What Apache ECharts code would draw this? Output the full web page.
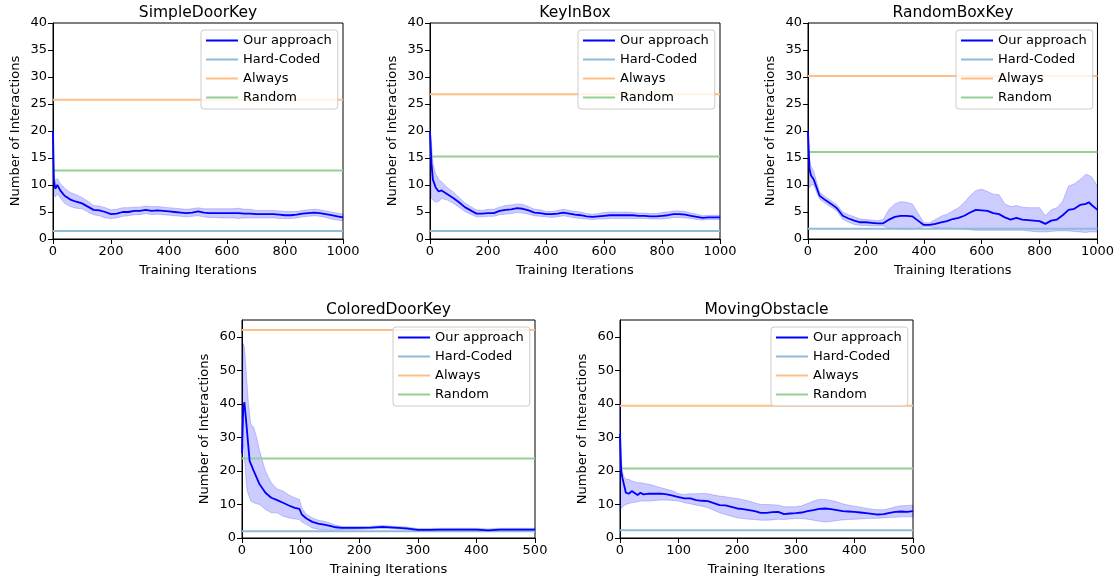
<!DOCTYPE html>
<html>
<head>
<meta charset="utf-8">
<script src="https://cdn.jsdelivr.net/npm/echarts@6/dist/echarts.min.js"></script>
<style>
	html,body{margin:0;padding:0;background:#fff}
	#chart{width:1117px;height:584px}
</style>
</head>
<body>
<div id="chart"></div>
<script>
// panel titles and baselines (Hard-Coded, Always, Random), one entry per panel
var titles = ['SimpleDoorKey', 'KeyInBox', 'RandomBoxKey', 'ColoredDoorKey', 'MovingObstacle'];
var hardCoded = [1.5, 1.5, 1.9, 2.0, 2.3];
var always = [25.8, 26.8, 30.2, 62.0, 39.4];
var randomBase = [12.7, 15.3, 16.1, 23.7, 20.7];

// SimpleDoorKey
var sdkX = [0, 3, 8, 15, 25, 40, 60, 80, 100, 120, 140, 160, 180, 200, 220, 240, 260, 280, 300, 320, 340, 360, 380, 400, 420, 440, 460, 480, 500, 520, 540, 560, 580, 600, 620, 640, 660, 680, 700, 720, 740, 760, 780, 800, 820, 840, 860, 880, 900, 920, 940, 960, 980, 1000];
var sdkMean = [20, 11, 9.3, 10, 9, 8, 7.3, 6.9, 6.6, 6, 5.4, 5.3, 5, 4.6, 4.7, 5, 5, 5.2, 5.2, 5.4, 5.2, 5.3, 5.2, 5.1, 5, 4.9, 4.8, 4.9, 5.1, 4.9, 4.8, 4.8, 4.8, 4.8, 4.8, 4.8, 4.7, 4.7, 4.6, 4.6, 4.6, 4.6, 4.5, 4.4, 4.4, 4.5, 4.7, 4.8, 4.9, 4.8, 4.6, 4.4, 4.2, 4.0];
var sdkLow = [20, 8.5, 7.8, 8.4, 7.6, 6.6, 6.0, 5.7, 5.6, 5.0, 4.5, 4.3, 3.9, 3.8, 3.9, 4.2, 4.3, 4.5, 4.5, 4.7, 4.5, 4.6, 4.5, 4.4, 4.3, 4.2, 4.1, 4.2, 4.3, 4.1, 4.0, 4.0, 3.9, 3.9, 3.9, 3.8, 3.9, 3.9, 3.9, 3.9, 3.9, 3.9, 3.8, 3.8, 3.8, 3.9, 4.1, 4.2, 4.3, 4.2, 4.0, 3.7, 3.5, 3.4];
var sdkHigh = [20, 12, 10.8, 11.2, 10.3, 9.4, 8.6, 8.2, 7.7, 7.0, 6.2, 6.1, 5.8, 5.4, 5.5, 5.8, 5.8, 5.9, 5.9, 6.1, 6.0, 6.0, 5.9, 5.8, 5.7, 5.6, 5.5, 5.6, 5.8, 5.6, 5.6, 5.6, 5.6, 5.6, 5.6, 5.7, 5.5, 5.5, 5.3, 5.3, 5.3, 5.3, 5.2, 5.1, 5.1, 5.1, 5.3, 5.4, 5.5, 5.4, 5.2, 5.0, 4.8, 4.6];

// KeyInBox
var kibX = [0, 5, 10, 20, 30, 40, 60, 80, 100, 120, 140, 160, 180, 200, 220, 240, 260, 280, 300, 320, 340, 360, 380, 400, 420, 440, 460, 480, 500, 520, 540, 560, 580, 600, 620, 640, 660, 680, 700, 720, 740, 760, 780, 800, 820, 840, 860, 880, 900, 920, 940, 960, 980, 1000];
var kibMean = [20, 14, 11, 9.5, 8.8, 9, 8.3, 7.6, 6.8, 5.9, 5.3, 4.7, 4.7, 4.8, 4.8, 5.2, 5.4, 5.5, 5.7, 5.6, 5.3, 4.9, 4.8, 4.6, 4.6, 4.7, 4.9, 4.7, 4.5, 4.4, 4.2, 4.1, 4.2, 4.3, 4.4, 4.4, 4.4, 4.4, 4.4, 4.3, 4.3, 4.2, 4.2, 4.3, 4.4, 4.6, 4.6, 4.5, 4.3, 4.1, 3.9, 4.0, 4.0, 4.0];
var kibLow = [20, 7.5, 7.2, 6.8, 7.0, 7.5, 7.2, 6.6, 5.9, 5.1, 4.6, 4.1, 4.1, 4.2, 4.2, 4.5, 4.6, 4.7, 4.9, 4.8, 4.6, 4.3, 4.2, 4.1, 4.0, 4.1, 4.3, 4.1, 3.9, 3.8, 3.7, 3.6, 3.7, 3.7, 3.8, 3.8, 3.8, 3.8, 3.8, 3.8, 3.8, 3.7, 3.7, 3.7, 3.8, 4.0, 4.0, 3.9, 3.8, 3.6, 3.5, 3.6, 3.6, 3.6];
var kibHigh = [20, 18, 14, 12, 11, 10.6, 9.5, 8.7, 7.7, 6.7, 6.0, 5.4, 5.3, 5.5, 5.5, 5.9, 6.2, 6.3, 6.5, 6.4, 6.0, 5.5, 5.4, 5.1, 5.1, 5.3, 5.5, 5.3, 5.1, 5.0, 4.7, 4.6, 4.7, 4.9, 5.0, 5.0, 5.0, 5.0, 4.9, 4.8, 4.8, 4.7, 4.7, 4.9, 5.0, 5.2, 5.2, 5.1, 4.8, 4.6, 4.3, 4.4, 4.4, 4.4];

// RandomBoxKey
var rbkX = [0, 5, 10, 20, 30, 40, 60, 80, 100, 120, 140, 160, 180, 200, 220, 240, 260, 280, 300, 320, 340, 360, 380, 400, 420, 440, 460, 480, 500, 520, 540, 560, 580, 600, 620, 640, 660, 680, 700, 720, 740, 760, 780, 800, 820, 840, 860, 880, 900, 920, 940, 960, 970, 980, 1000];
var rbkMean = [20, 13, 11.8, 11, 9.5, 8, 7.2, 6.5, 5.7, 4.3, 3.8, 3.4, 3.1, 3.1, 3.0, 2.9, 2.9, 3.6, 4.1, 4.3, 4.3, 4.2, 3.4, 2.6, 2.6, 2.8, 3.1, 3.3, 3.7, 3.9, 4.3, 4.9, 5.4, 5.3, 5.2, 4.8, 4.6, 4.0, 3.6, 3.9, 3.6, 3.5, 3.4, 3.3, 2.8, 3.4, 3.6, 4.4, 5.4, 5.6, 6.3, 6.5, 6.8, 6.3, 5.4];
var rbkLow = [20, 9.5, 10, 10, 8.6, 7.4, 6.6, 5.9, 5.2, 3.6, 3.1, 2.7, 2.5, 2.5, 2.4, 2.4, 2.4, 2.0, 1.9, 1.8, 1.8, 1.8, 2.0, 2.3, 2.3, 2.1, 2.0, 2.0, 2.0, 1.9, 1.8, 1.7, 1.6, 1.6, 1.6, 1.6, 1.6, 1.6, 1.6, 1.6, 1.6, 1.5, 1.4, 1.3, 1.3, 1.4, 1.5, 1.5, 1.5, 1.4, 1.3, 1.2, 1.3, 1.3, 1.3];
var rbkHigh = [20, 15, 13.5, 12.5, 10.5, 8.7, 7.8, 7.1, 6.3, 5.0, 4.5, 4.1, 3.7, 3.6, 3.5, 3.4, 3.6, 5.5, 6.5, 6.9, 6.8, 6.5, 4.8, 3.0, 3.0, 3.6, 4.2, 4.6, 5.2, 5.8, 6.8, 8.0, 9.0, 9.2, 8.8, 8.3, 8.2, 6.5, 6.0, 6.2, 5.9, 5.8, 5.8, 5.8, 4.3, 5.4, 5.8, 7.0, 9.8, 10.2, 11.0, 12.0, 11.8, 11.5, 9.8];

// ColoredDoorKey
var cdkX = [0, 2, 4, 5, 7, 9, 11, 13, 15, 20, 25, 30, 40, 50, 60, 70, 80, 90, 98, 102, 110, 120, 130, 140, 150, 160, 170, 180, 200, 220, 240, 260, 280, 300, 320, 340, 360, 380, 400, 420, 440, 460, 480, 500];
var cdkMean = [25.3, 38, 40.5, 41, 35, 31, 27, 23, 23, 20, 18, 16, 13.5, 12, 11.3, 10.5, 9.7, 9, 8.7, 7, 5.8, 4.8, 4.3, 4.0, 3.6, 3.2, 3.0, 3.0, 3.0, 3.1, 3.3, 3.1, 2.9, 2.4, 2.4, 2.5, 2.5, 2.5, 2.5, 2.3, 2.5, 2.5, 2.5, 2.5];
var cdkLow = [25, 28, 24, 22, 17, 14, 13, 12, 11, 10.5, 10.2, 10, 8.5, 7.5, 7.5, 6.5, 6, 5.7, 5.5, 4.8, 4, 3, 2.6, 2.3, 2.3, 2.3, 2.4, 2.5, 2.6, 2.7, 2.8, 2.7, 2.5, 2.0, 2.0, 2.1, 2.1, 2.1, 2.1, 1.9, 2.1, 2.1, 2.1, 2.1];
var cdkHigh = [25.5, 58, 57, 55, 50, 45, 40, 37, 34, 33, 30, 26, 20, 16.5, 14.6, 14, 12.8, 12, 11.5, 9, 7, 6, 5.3, 5.0, 4.5, 3.8, 3.5, 3.4, 3.4, 3.5, 3.7, 3.5, 3.3, 2.8, 2.8, 2.9, 2.9, 2.9, 2.9, 2.7, 2.9, 2.9, 2.9, 2.9];

// MovingObstacle
var moX = [0, 2, 4, 6, 8, 10, 15, 20, 30, 35, 40, 50, 60, 70, 80, 90, 100, 110, 120, 130, 140, 150, 160, 170, 180, 190, 200, 210, 220, 230, 240, 250, 260, 270, 280, 290, 300, 310, 320, 330, 340, 350, 360, 370, 380, 390, 400, 410, 420, 430, 440, 450, 460, 470, 480, 490, 500];
var moMean = [31, 20, 18, 17.5, 15, 13.5, 13.2, 14, 12.8, 13.5, 13, 13.2, 13.2, 13.2, 13, 12.6, 12.2, 11.8, 11.8, 11.3, 11.1, 11, 10.4, 9.8, 9.7, 9.3, 8.8, 8.6, 8.3, 8.0, 7.5, 7.5, 7.7, 7.8, 7.1, 7.3, 7.4, 7.6, 8.0, 8.3, 8.7, 8.8, 8.6, 8.3, 8.0, 7.9, 7.8, 7.6, 7.4, 7.2, 7.0, 7.1, 7.5, 7.8, 7.9, 7.8, 8.0];
var moLow = [8, 9, 9.2, 9.5, 9.8, 10, 10.3, 10.5, 10.8, 11, 11, 11, 11.2, 11.3, 11.3, 11.2, 11, 10.5, 10.2, 9.8, 9.5, 9, 8.3, 7.5, 7, 6.5, 6, 5.8, 5.6, 5.5, 5.3, 5.3, 5.4, 5.6, 5.5, 5.7, 5.8, 5.8, 5.6, 5.3, 5.0, 4.8, 4.9, 5.2, 5.4, 5.5, 5.6, 5.7, 5.8, 5.8, 5.9, 6.0, 6.1, 6.2, 6.3, 6.3, 6.3];
var moHigh = [40, 24, 20, 18.5, 18, 17.5, 17.5, 17, 16.5, 16.5, 16.3, 16, 15.5, 15, 14.5, 14, 13.2, 13, 13.2, 13.2, 13.3, 13.2, 12.8, 12.5, 12.3, 12, 11.8, 11.4, 11, 10.5, 10, 10, 9.9, 9.8, 9.3, 9.3, 9.3, 9.6, 10.3, 11, 11.5, 11.5, 11.2, 10.8, 10.2, 9.8, 9.5, 9.2, 8.9, 8.6, 8.4, 8.4, 8.8, 9.3, 9.6, 9.7, 9.8];

var panels = [
	{x: sdkX, mean: sdkMean, low: sdkLow, high: sdkHigh},
	{x: kibX, mean: kibMean, low: kibLow, high: kibHigh},
	{x: rbkX, mean: rbkMean, low: rbkLow, high: rbkHigh},
	{x: cdkX, mean: cdkMean, low: cdkLow, high: cdkHigh},
	{x: moX, mean: moMean, low: moLow, high: moHigh}
];

// layout of the five axes boxes
var boxes = [
	{left: 53, top: 23, width: 290, height: 216},
	{left: 430, top: 23, width: 290, height: 216},
	{left: 808, top: 23, width: 290, height: 216},
	{left: 242, top: 320, width: 293, height: 218},
	{left: 620, top: 320, width: 293, height: 218}
];

var FONT = 'DejaVu Sans';
var C_OURS = '#0000ff';
var C_HARD = '#8fbbd9';
var C_ALWAYS = '#ffbf86';
var C_RANDOM = '#95cf95';

var grids = [], xAxes = [], yAxes = [], titleList = [], legends = [], series = [];

function hline(i, name, v, color, xs){
	return {
		name: name, type: 'line', xAxisIndex: i, yAxisIndex: i,
		data: [[xs[0], v], [xs[xs.length - 1], v]],
		symbol: 'none', color: color,
		lineStyle: {color: color, width: 2}, z: 3
	};
}

// fill_between style band, drawn once as a polygon through the axis scales
function bandSeries(i, p){
	return {
		type: 'custom', xAxisIndex: i, yAxisIndex: i, silent: true, z: 1,
		data: p.x.map(function(x, k){ return [x, p.low[k], p.high[k]]; }),
		encode: {x: 0, y: [1, 2]},
		renderItem: function(params, api){
			if (params.dataIndex !== 0) return;
			var pts = [];
			for (var k = 0; k < p.x.length; k++) pts.push(api.coord([p.x[k], p.high[k]]));
			for (var k = p.x.length - 1; k >= 0; k--) pts.push(api.coord([p.x[k], p.low[k]]));
			return {
				type: 'polygon', shape: {points: pts},
				style: {fill: 'rgba(0,0,255,0.2)', stroke: 'rgba(0,0,255,0.2)', lineWidth: 1}
			};
		}
	};
}

panels.forEach(function(p, i){
	var b = boxes[i];
	var big = i >= 3;
	grids.push({left: b.left, top: b.top, width: b.width, height: b.height,
		show: true, borderColor: '#000', borderWidth: 1, backgroundColor: 'transparent'});
	xAxes.push({
		type: 'value', gridIndex: i, min: 0, max: big ? 500 : 1000, interval: big ? 100 : 200,
		name: 'Training Iterations', nameLocation: 'middle', nameGap: 25,
		nameTextStyle: {color: '#000', fontFamily: FONT, fontSize: 13},
		axisLine: {lineStyle: {color: '#000', width: 1}},
		axisTick: {show: true, length: 5, lineStyle: {color: '#000'}},
		axisLabel: {color: '#000', fontFamily: FONT, fontSize: 13, margin: 6,
			formatter: function(v){ return String(v); }},
		splitLine: {show: false}
	});
	var yTicks = big ? [0, 10, 20, 30, 40, 50, 60] : [0, 5, 10, 15, 20, 25, 30, 35, 40];
	yAxes.push({
		type: 'value', gridIndex: i, min: 0, max: big ? 65 : 40, interval: big ? 10 : 5,
		name: 'Number of Interactions', nameLocation: 'middle', nameGap: 31,
		nameTextStyle: {color: '#000', fontFamily: FONT, fontSize: 13},
		axisLine: {show: true, lineStyle: {color: '#000', width: 1}},
		axisTick: {show: true, length: 5, lineStyle: {color: '#000'}, customValues: yTicks},
		axisLabel: {color: '#000', fontFamily: FONT, fontSize: 13, margin: 6, customValues: yTicks},
		splitLine: {show: false}
	});
	titleList.push({
		text: titles[i], left: b.left + b.width / 2 - 5, top: big ? 297 : 0, textAlign: 'center',
		textStyle: {color: '#000', fontFamily: FONT, fontSize: 15.5, fontWeight: 'normal'}
	});
	legends.push({
		orient: 'vertical', left: b.left + b.width - 142, top: b.top + 7,
		padding: [4, 6, 5, 4], itemGap: 6, itemWidth: 32, itemHeight: 14,
		backgroundColor: 'rgba(255,255,255,0.8)', borderColor: '#cccccc', borderWidth: 1, borderRadius: 3,
		textStyle: {color: '#000', fontFamily: FONT, fontSize: 13},
		itemStyle: {opacity: 0},
		selectedMode: false,
		data: ['Our approach', 'Hard-Coded', 'Always', 'Random']
	});

	series.push(bandSeries(i, p));
	series.push({
		name: 'Our approach', type: 'line', xAxisIndex: i, yAxisIndex: i,
		data: p.x.map(function(x, k){ return [x, p.mean[k]]; }),
		symbol: 'none', color: C_OURS, lineStyle: {color: C_OURS, width: 1.8}, z: 4
	});
	series.push(hline(i, 'Hard-Coded', hardCoded[i], C_HARD, p.x));
	series.push(hline(i, 'Always', always[i], C_ALWAYS, p.x));
	series.push(hline(i, 'Random', randomBase[i], C_RANDOM, p.x));
});

var myChart = echarts.init(document.getElementById('chart'), null, {renderer: 'canvas'});
myChart.setOption({
	animation: false,
	backgroundColor: '#fff',
	title: titleList,
	legend: legends,
	grid: grids,
	xAxis: xAxes,
	yAxis: yAxes,
	series: series
});
</script>
</body>
</html>
